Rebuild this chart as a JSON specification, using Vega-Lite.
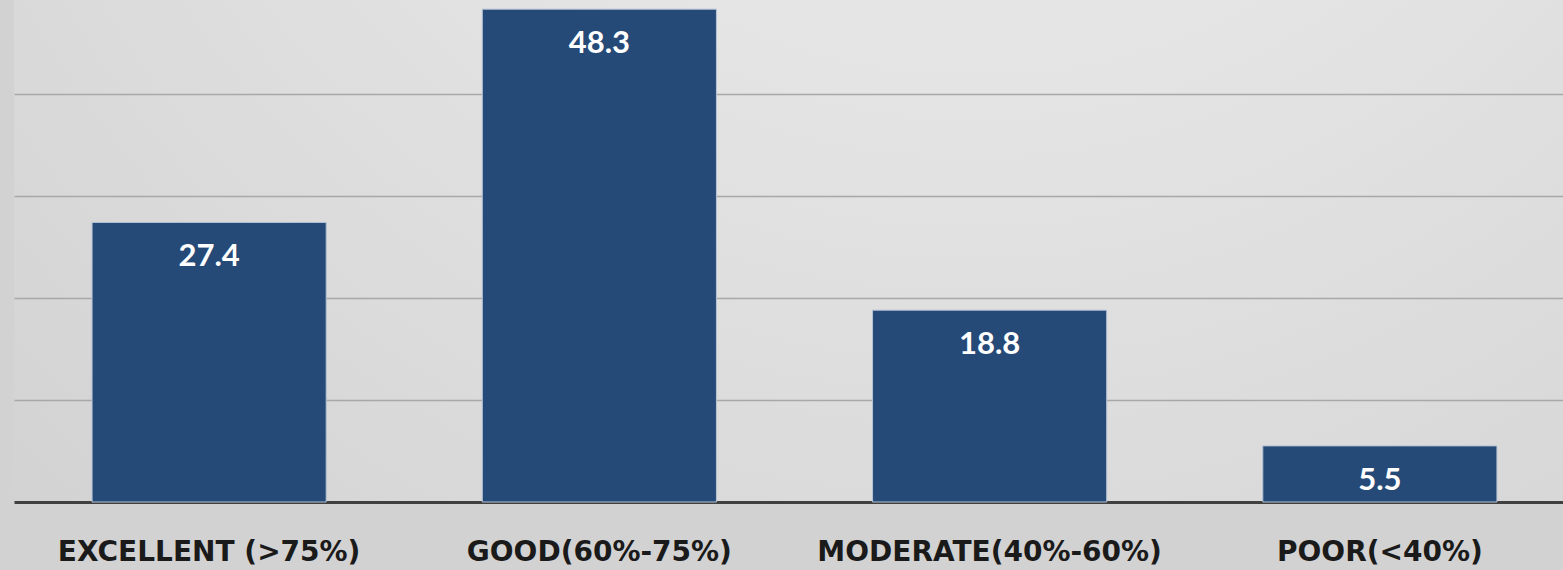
{
  "$schema": "https://vega.github.io/schema/vega-lite/v6.json",
  "width": 1549,
  "height": 502,
  "autosize": {"type": "none"},
  "padding": {"left": 14, "top": 0, "right": 0, "bottom": 68},
  "background": "#d2d2d2",
  "config": {
    "view": {
      "stroke": null,
      "fill": {
        "gradient": "radial",
        "x1": 0.62, "y1": 0.0, "r1": 0,
        "x2": 0.62, "y2": 0.0, "r2": 0.95,
        "stops": [
          {"offset": 0, "color": "#eeeeee"},
          {"offset": 0.45, "color": "#e3e3e3"},
          {"offset": 1, "color": "#d1d1d1"}
        ]
      }
    }
  },
  "data": {
    "values": [
      {"category": "EXCELLENT (>75%)", "value": 27.4},
      {"category": "GOOD(60%-75%)", "value": 48.3},
      {"category": "MODERATE(40%-60%)", "value": 18.8},
      {"category": "POOR(<40%)", "value": 5.5}
    ]
  },
  "encoding": {
    "x": {
      "field": "category",
      "type": "nominal",
      "sort": null,
      "scale": {"paddingInner": 0.4, "paddingOuter": 0.2, "range": [0, 1561]},
      "axis": {
        "title": null,
        "labelAngle": 0,
        "labelFont": "DejaVu Sans",
        "labelFontWeight": "bold",
        "labelFontSize": 28,
        "labelColor": "#1a1a1a",
        "labelBaseline": "alphabetic",
        "labelPadding": 58,
        "ticks": false,
        "tickSize": 0,
        "domainColor": "#404040",
        "domainWidth": 3,
        "grid": false,
        "labelLimit": 0
      }
    },
    "y": {
      "field": "value",
      "type": "quantitative",
      "scale": {"domain": [0, 49.2], "nice": false, "zero": true},
      "axis": {
        "title": null,
        "labels": false,
        "ticks": false,
        "domain": false,
        "grid": true,
        "values": [10, 20, 30, 40],
        "gridColor": "#a8a8a8",
        "gridWidth": 1.5
      }
    }
  },
  "layer": [
    {
      "mark": {"type": "bar", "color": "#264a78", "stroke": "#b6c3d5", "strokeWidth": 1}
    },
    {
      "mark": {
        "type": "text",
        "baseline": "alphabetic",
        "align": "center",
        "dy": 44,
        "font": "Lato",
        "fontWeight": "bold",
        "fontSize": 31,
        "color": "#ffffff"
      },
      "encoding": {"text": {"field": "value", "type": "quantitative", "format": ".1f"}}
    }
  ]
}
